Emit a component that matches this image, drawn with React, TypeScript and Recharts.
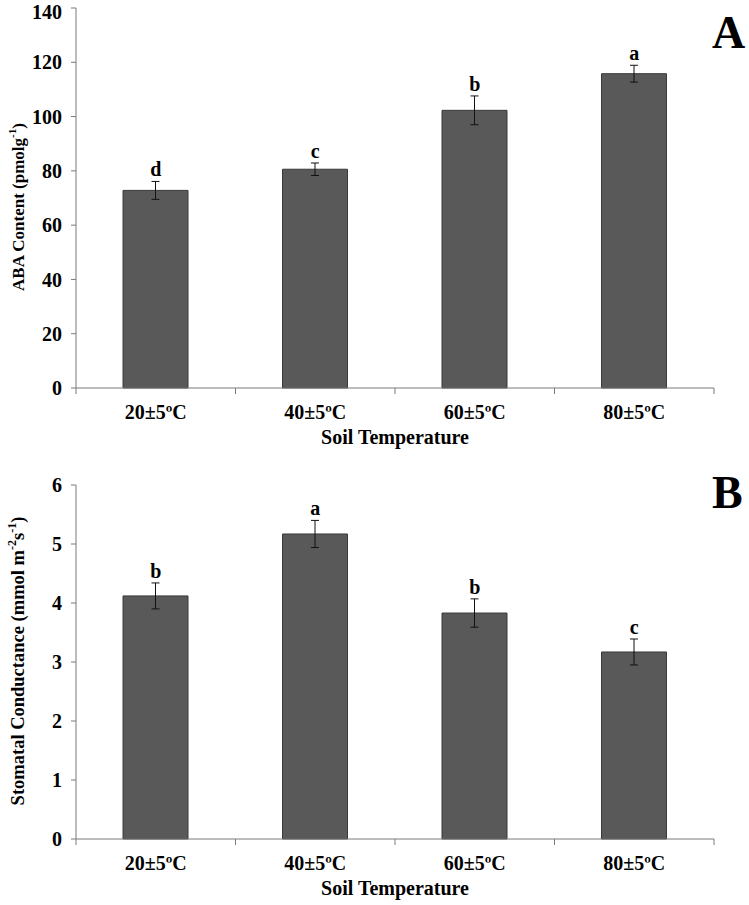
import React from 'react';
import { BarChart, Bar, XAxis, YAxis, ErrorBar, Line, LabelList, Label } from 'recharts';

const categories = ['20±5ºC', '40±5ºC', '60±5ºC', '80±5ºC'];
const abaMean = [72.8, 80.6, 102.3, 115.8];
const abaErr = [3.3, 2.3, 5.3, 3.1];
const abaLetters = ['d', 'c', 'b', 'a'];
const gsMean = [4.12, 5.17, 3.83, 3.17];
const gsErr = [0.22, 0.23, 0.24, 0.22];
const gsLetters = ['b', 'a', 'b', 'c'];
const abaTicks = [0, 20, 40, 60, 80, 100, 120, 140];
const gsTicks = [0, 1, 2, 3, 4, 5, 6];

const font = "'Liberation Serif', 'Times New Roman', serif";
const axisColor = '#7a7a7a';
const xTicks = [0, 0.5, 1, 1.5, 2, 2.5, 3, 3.5, 4];

const build = (mean: number[], err: number[], letters: string[]) =>
  mean.map((m, i) => ({ pos: i + 0.5, mean: m, err: err[i], top: m + err[i], letter: letters[i] }));

const abaData = build(abaMean, abaErr, abaLetters);
const gsData = build(gsMean, gsErr, gsLetters);

const XTick = (props: any) => {
  const { x, y, payload } = props;
  const v = payload.value;
  if (Number.isInteger(v)) {
    return <line x1={x} x2={x} y1={y} y2={y + 6} stroke={axisColor} />;
  }
  return (
    <text x={x} y={y + 24} textAnchor="middle" dominantBaseline="central" fontFamily={font} fontWeight="bold" fontSize={20} fill="#000">
      {categories[Math.floor(v)]}
    </text>
  );
};

// rotated y-axis title with superscripts
const YLabel = (parts: { main: string; sups: [string, string][]; cy: number; size: number }) => (props: any) => {
  const cx = 18;
  const cy = parts.cy;
  return (
    <text x={cx} y={cy} transform={`rotate(-90, ${cx}, ${cy})`} textAnchor="middle" dominantBaseline="central" fontFamily={font} fontWeight="bold" fontSize={parts.size} fill="#000">
      <tspan>{parts.main}</tspan>
      {parts.sups.map(([sup, after], i) => (
        <React.Fragment key={i}>
          <tspan dy={-6} fontSize={parts.size * 0.65}>{sup}</tspan>
          <tspan dy={6}>{after}</tspan>
        </React.Fragment>
      ))}
    </text>
  );
};

const XLabel = (props: any) => {
  const vb = props.viewBox;
  return (
    <text x={vb.x + vb.width / 2} y={vb.y + 49} textAnchor="middle" dominantBaseline="central" fontFamily={font} fontWeight="bold" fontSize={20} fill="#000">
      Soil Temperature
    </text>
  );
};

const Panel = ({ data, ticks, max, height, top, bottom, label }: any) => (
  <BarChart width={749} height={height} data={data} margin={{ top, right: 35, left: 0, bottom: 0 }}>
    <XAxis
      type="number"
      dataKey="pos"
      domain={[0, 4]}
      ticks={xTicks}
      interval={0}
      height={bottom}
      tickSize={0}
      tickMargin={0}
      tickLine={false}
      tick={<XTick />}
      stroke={axisColor}
    >
      <Label content={<XLabel />} />
    </XAxis>
    <YAxis
      domain={[0, max]}
      ticks={ticks}
      width={76}
      tickSize={5}
      tickMargin={9}
      stroke={axisColor}
      tick={{ fill: '#000', fontFamily: font, fontWeight: 'bold', fontSize: 20 }}
    >
      <Label content={label} />
    </YAxis>
    <Bar dataKey="mean" barSize={65} fill="#595959" stroke="#3a3a3a" strokeWidth={1} isAnimationActive={false}>
      <ErrorBar dataKey="err" direction="y" width={4} stroke="#111" strokeWidth={1} />
    </Bar>
    <Line dataKey="top" stroke="none" dot={false} activeDot={false} isAnimationActive={false}>
      <LabelList dataKey="letter" position="top" offset={5} fill="#000" fontFamily={font} fontWeight="bold" fontSize={20} />
    </Line>
  </BarChart>
);

const letterStyle: React.CSSProperties = {
  position: 'absolute',
  fontFamily: font,
  fontWeight: 'bold',
  fontSize: 46,
  lineHeight: 1,
  color: '#000',
};

export default function App() {
  return (
    <div style={{ position: 'absolute', top: 0, left: 0, width: 749, height: 905, background: '#fff' }}>
      <Panel
        data={abaData}
        ticks={abaTicks}
        max={140}
        height={450}
        top={8}
        bottom={62}
        label={YLabel({ main: 'ABA Content (pmolg', sups: [['-1', ')']], cy: 207, size: 17 })}
      />
      <Panel
        data={gsData}
        ticks={gsTicks}
        max={6}
        height={455}
        top={35}
        bottom={66}
        label={YLabel({ main: 'Stomatal Conductance (mmol m', sups: [['-2', 's'], ['-1', ')']], cy: 211, size: 18.5 })}
      />
      <div style={{ ...letterStyle, left: 712, top: 10 }}>A</div>
      <div style={{ ...letterStyle, left: 712, top: 470 }}>B</div>
    </div>
  );
}
